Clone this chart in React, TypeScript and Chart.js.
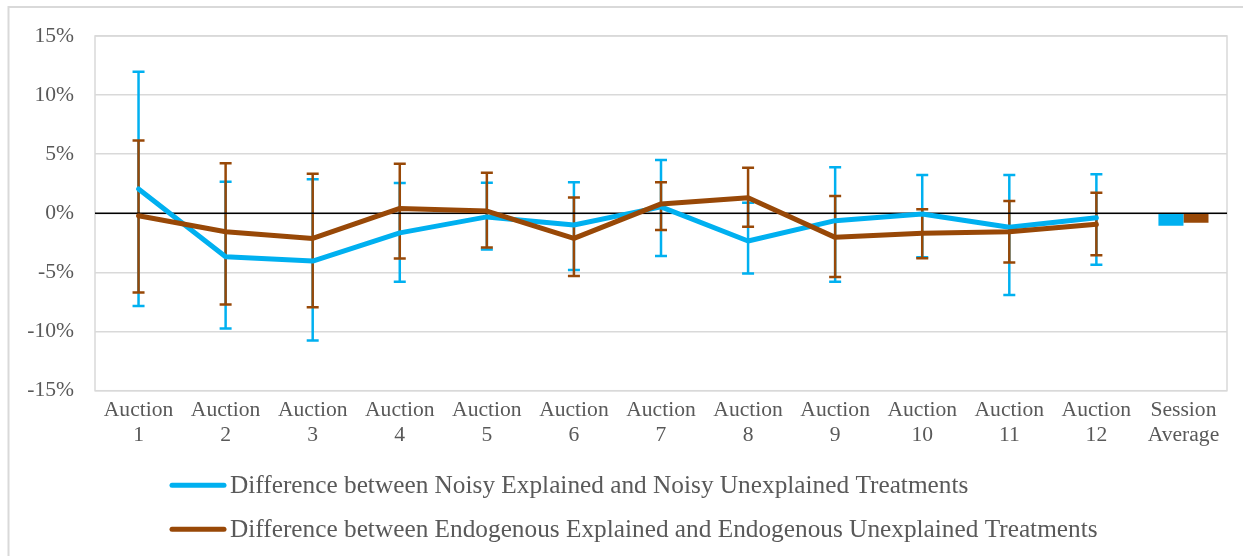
import React, { useEffect, useRef } from "react";
import { Chart, registerables } from "chart.js";

Chart.register(...registerables);

// Category labels (two lines each)
const categories: string[][] = [
  ["Auction", "1"], ["Auction", "2"], ["Auction", "3"], ["Auction", "4"],
  ["Auction", "5"], ["Auction", "6"], ["Auction", "7"], ["Auction", "8"],
  ["Auction", "9"], ["Auction", "10"], ["Auction", "11"], ["Auction", "12"],
  ["Session", "Average"],
];

const noisyLabel = "Difference between Noisy Explained and Noisy Unexplained Treatments";
const endogLabel = "Difference between Endogenous Explained and Endogenous Unexplained Treatments";

// Per-auction differences, in percent
const noisyMean = [2.06, -3.67, -4.04, -1.65, -0.3, -0.99, 0.55, -2.34, -0.62, -0.06, -1.18, -0.37];
const noisyHigh = [11.98, 2.67, 2.88, 2.56, 2.59, 2.62, 4.51, 0.9, 3.89, 3.24, 3.24, 3.3];
const noisyLow = [-7.84, -9.73, -10.75, -5.79, -3.05, -4.8, -3.61, -5.08, -5.78, -3.72, -6.91, -4.35];

const endogMean = [-0.2, -1.55, -2.12, 0.42, 0.19, -2.12, 0.8, 1.32, -2.03, -1.69, -1.55, -0.93];
const endogHigh = [6.17, 4.23, 3.35, 4.2, 3.44, 1.35, 2.62, 3.86, 1.46, 0.34, 1.04, 1.74];
const endogLow = [-6.69, -7.7, -7.95, -3.81, -2.88, -5.3, -1.41, -1.13, -5.39, -3.8, -4.15, -3.55];

// Session averages (bars)
const noisySessionAvg = -1.05;
const endogSessionAvg = -0.8;

// Value axis range, in percent
const yMin = -15;
const yMax = 15;
const yStep = 5;

const BLUE = "#00B0F0";
const BROWN = "#984807";
const GRID = "#D9D9D9";
const TEXT = "#595959";
const FONT = "'Liberation Serif', 'Times New Roman', serif";

const lastIndex = categories.length - 1;
const lineData = (vals: number[]) => categories.map((_, i) => (i < vals.length ? vals[i] : null));
const avgData = (v: number) => categories.map((_, i) => (i === lastIndex ? v : null));

const errorSeries = [
  { datasetIndex: 0, high: noisyHigh, low: noisyLow, color: BLUE },
  { datasetIndex: 1, high: endogHigh, low: endogLow, color: BROWN },
];

// Error bars, drawn underneath the lines
const errorBarPlugin = {
  id: "errorBars",
  beforeDatasetsDraw(chart: any) {
    const { ctx } = chart;
    const x = chart.scales.x;
    const y = chart.scales.y;
    ctx.save();
    ctx.lineCap = "butt";
    for (const s of errorSeries) {
      ctx.strokeStyle = s.color;
      ctx.lineWidth = 2.5;
      for (let i = 0; i < s.high.length; i++) {
        const px = x.getPixelForValue(i);
        const yh = y.getPixelForValue(s.high[i]);
        const yl = y.getPixelForValue(s.low[i]);
        ctx.beginPath();
        ctx.moveTo(px, yh);
        ctx.lineTo(px, yl);
        ctx.moveTo(px - 6, yh);
        ctx.lineTo(px + 6, yh);
        ctx.moveTo(px - 6, yl);
        ctx.lineTo(px + 6, yl);
        ctx.stroke();
      }
    }
    ctx.restore();
  },
};

// Outer frame, plot-area box and the legend
const framePlugin = {
  id: "frame",
  beforeDraw(chart: any) {
    const { ctx, width, height } = chart;
    ctx.save();
    ctx.strokeStyle = GRID;
    ctx.lineWidth = 2;
    ctx.beginPath();
    ctx.moveTo(8.5, height);
    ctx.lineTo(8.5, 7);
    ctx.lineTo(width, 7);
    ctx.stroke();
    ctx.restore();
  },
  beforeDatasetsDraw(chart: any) {
    const { ctx, chartArea: a } = chart;
    ctx.save();
    ctx.strokeStyle = GRID;
    ctx.lineWidth = 1.5;
    ctx.strokeRect(a.left, a.top, a.right - a.left, a.bottom - a.top);
    // zero line on top of the box / grid
    const y0 = chart.scales.y.getPixelForValue(0);
    ctx.strokeStyle = "#000000";
    ctx.lineWidth = 1.5;
    ctx.beginPath();
    ctx.moveTo(a.left, y0);
    ctx.lineTo(a.right, y0);
    ctx.stroke();
    ctx.restore();
  },
  afterDraw(chart: any) {
    const { ctx } = chart;
    const items = chart.data.datasets.filter((d: any) => d.type === "line");
    ctx.save();
    ctx.font = `25.3px ${FONT}`;
    ctx.textBaseline = "alphabetic";
    ctx.textAlign = "left";
    items.forEach((d: any, row: number) => {
      const cy = 485.3 + row * 44;
      ctx.strokeStyle = d.borderColor;
      ctx.lineWidth = 5;
      ctx.lineCap = "round";
      ctx.beginPath();
      ctx.moveTo(172, cy);
      ctx.lineTo(224, cy);
      ctx.stroke();
      ctx.fillStyle = TEXT;
      ctx.fillText(d.label, 230, cy + 8);
    });
    ctx.restore();
  },
};

export default function App() {
  const canvasRef = useRef<HTMLCanvasElement | null>(null);

  useEffect(() => {
    const canvas = canvasRef.current;
    if (!canvas) return;
    const chart = new Chart(canvas, {
      type: "bar",
      data: {
        labels: categories,
        datasets: [
          {
            type: "line",
            label: noisyLabel,
            data: lineData(noisyMean),
            borderColor: BLUE,
            backgroundColor: BLUE,
            borderWidth: 5,
            pointRadius: 0,
            borderJoinStyle: "round",
            borderCapStyle: "round",
            tension: 0,
            order: 1,
          } as any,
          {
            type: "line",
            label: endogLabel,
            data: lineData(endogMean),
            borderColor: BROWN,
            backgroundColor: BROWN,
            borderWidth: 5,
            pointRadius: 0,
            borderJoinStyle: "round",
            borderCapStyle: "round",
            tension: 0,
            order: 0,
          } as any,
          {
            type: "bar",
            label: "Noisy session average",
            data: avgData(noisySessionAvg),
            backgroundColor: BLUE,
            borderWidth: 0,
            categoryPercentage: 0.575,
            barPercentage: 1,
            order: 2,
          } as any,
          {
            type: "bar",
            label: "Endogenous session average",
            data: avgData(endogSessionAvg),
            backgroundColor: BROWN,
            borderWidth: 0,
            categoryPercentage: 0.575,
            barPercentage: 1,
            order: 3,
          } as any,
        ],
      },
      options: {
        animation: false,
        responsive: false,
        devicePixelRatio: 1,
        layout: { padding: { left: 0, right: 16, top: 36, bottom: 0 } },
        plugins: {
          legend: { display: false },
          tooltip: { enabled: false },
        },
        scales: {
          x: {
            offset: true,
            grid: { display: false, drawTicks: false },
            border: { display: false },
            ticks: {
              color: TEXT,
              font: { family: FONT, size: 21.6, lineHeight: 1.17 },
              padding: 7,
              maxRotation: 0,
              autoSkip: false,
            },
            afterFit: (scale: any) => {
              scale.height = 165.3;
            },
          },
          y: {
            min: yMin,
            max: yMax,
            grid: {
              color: GRID,
              lineWidth: 1.5,
              drawTicks: false,
            },
            border: { display: false },
            ticks: {
              stepSize: yStep,
              color: TEXT,
              font: { family: FONT, size: 21.6 },
              padding: 21,
              callback: (v: any) => `${v}%`,
            },
            afterFit: (scale: any) => {
              scale.width = 95;
            },
          },
        },
      },
      plugins: [errorBarPlugin, framePlugin],
    });
    return () => chart.destroy();
  }, []);

  return (
    <div style={{ position: "fixed", left: 0, top: 0, width: 1243, height: 556, background: "#fff" }}>
      <canvas ref={canvasRef} width={1243} height={556} style={{ display: "block" }} />
    </div>
  );
}
